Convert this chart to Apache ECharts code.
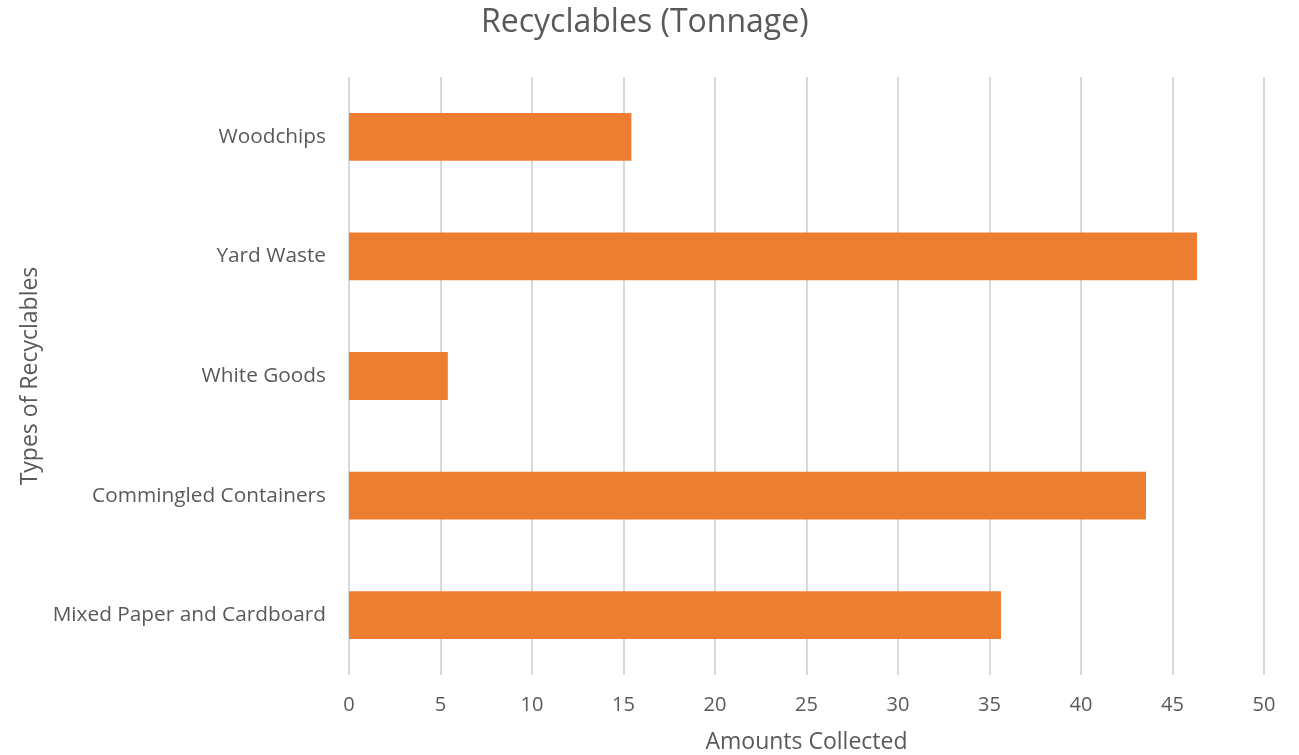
<!DOCTYPE html>
<html>
<head>
<meta charset="utf-8">
<script src="https://cdn.jsdelivr.net/npm/echarts@6/dist/echarts.min.js"></script>
<style>
html,body{margin:0;padding:0;background:#fff;}
#chart{width:1299px;height:755px;}
</style>
</head>
<body>
<div id="chart"></div>
<script>
const categories = ["Mixed Paper and Cardboard", "Commingled Containers", "White Goods", "Yard Waste", "Woodchips"];
const values = [35.63, 43.55, 5.4, 46.34, 15.43];
const xTicks = [0, 5, 10, 15, 20, 25, 30, 35, 40, 45, 50];

const font = "Open Sans";
const chart = echarts.init(document.getElementById('chart'));
chart.setOption({
  animation: false,
  title: {
    text: "Recyclables (Tonnage)",
    left: 476,
    top: 2,
    textStyle: {fontFamily: font, fontSize: 32, fontWeight: 'normal', color: '#595959'}
  },
  grid: {left: 349, right: 35, top: 77, bottom: 80, outerBoundsMode: 'none', containLabel: false},
  xAxis: {
    type: 'value',
    min: xTicks[0],
    max: xTicks[xTicks.length - 1],
    interval: 5,
    name: "Amounts Collected",
    nameLocation: 'middle',
    nameGap: 56,
    nameTextStyle: {fontFamily: font, fontSize: 23, color: '#595959'},
    axisLine: {show: false},
    axisTick: {show: false},
    axisLabel: {fontFamily: font, fontSize: 20, color: '#595959', margin: 20},
    splitLine: {show: true, lineStyle: {color: '#D9D9D9', width: 2}}
  },
  yAxis: {
    type: 'category',
    data: categories,
    name: "Types of Recyclables",
    nameLocation: 'middle',
    nameGap: 305,
    nameTextStyle: {fontFamily: font, fontSize: 23, color: '#595959'},
    axisLine: {show: false},
    axisTick: {show: false},
    axisLabel: {fontFamily: font, fontSize: 20.8, color: '#595959', margin: 23}
  },
  series: [{
    type: 'bar',
    data: values,
    barCategoryGap: '60%',
    itemStyle: {color: '#ED7D31'}
  }]
});
</script>
</body>
</html>
